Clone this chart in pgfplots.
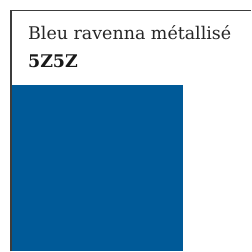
\documentclass[border=0pt]{standalone}
\usepackage{pgfplots}
\pgfplotsset{compat=1.18}
\usepackage{fontspec}
\setmainfont{DejaVu Serif}
\definecolor{ravenna}{RGB}{0,90,152}
\definecolor{frame}{RGB}{60,60,60}
\begin{document}
\begin{tikzpicture}
\begin{axis}[
  scale only axis, width=252pt, height=252pt,
  xmin=0, xmax=252, ymin=0, ymax=252, y dir=reverse,
  hide axis, clip=false]
\path (axis cs:0,0) rectangle (axis cs:252,252);
\addplot[fill=ravenna, draw=none] coordinates {(11,85) (184,85) (184,252) (11,252)} -- cycle;
\draw[frame, line width=1.5pt] (axis cs:11,252) -- (axis cs:11,10.5) -- (axis cs:252,10.5);
\node[anchor=base west, inner sep=0pt, font=\fontsize{17.5}{20}\selectfont, text=black!85] at (axis cs:28,40) {Bleu ravenna métallisé};
\node[anchor=base west, inner sep=0pt, font=\fontsize{17.5}{20}\selectfont\bfseries, text=black!90] at (axis cs:28,68) {5Z5Z};
\end{axis}
\end{tikzpicture}
\end{document}
